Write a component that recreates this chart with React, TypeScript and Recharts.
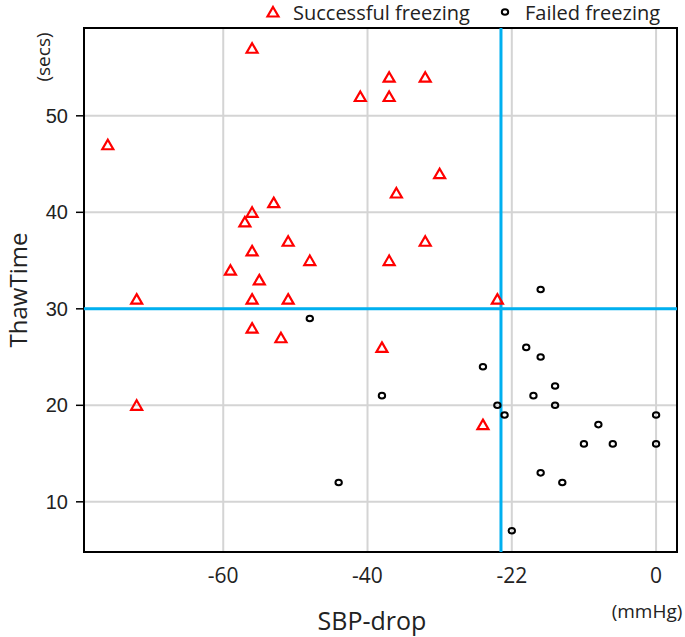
import React from 'react';
import { ScatterChart, Scatter, XAxis, YAxis, CartesianGrid, ReferenceLine, ReferenceArea } from 'recharts';

// successful freezing (red triangles)
const successSbp = [-56, -76, -53, -56, -37, -32, -41, -37, -30, -36, -57, -51, -56, -59, -55, -72, -56, -51, -56, -52, -72, -48, -37, -32, -22, -38, -24];
const successThaw = [57, 47, 41, 40, 54, 54, 52, 52, 44, 42, 39, 37, 36, 34, 33, 31, 31, 31, 28, 27, 20, 35, 35, 37, 31, 26, 18];

// failed freezing (black circles)
const failedSbp = [-48, -44, -38, -24, -22, -21, -20, -18, -17, -16, -16, -16, -14, -14, -13, -10, -8, -6, 0, 0];
const failedThaw = [29, 12, 21, 24, 20, 19, 7, 26, 21, 32, 25, 13, 22, 20, 12, 16, 18, 16, 19, 16];

const xTicks = [-60, -40, -20, 0];
const xTickLabels = ['-60', '-40', '-22', '0'];
const yTicks = [10, 20, 30, 40, 50];

const sbpCut = -21.5;
const thawCut = 30;
const xDomain: [number, number] = [-79.3, 2.9];
const yDomain: [number, number] = [4.8, 59.1];

const successData = successSbp.map((x, i) => ({ x, y: successThaw[i] }));
const failedData = failedSbp.map((x, i) => ({ x, y: failedThaw[i] }));

const BLUE = '#00b0f0';
const sans = '"Open Sans", sans-serif';

const Triangle = (p: any) => (
  <path d={`M${p.cx},${p.cy - 5} L${p.cx + 5.5},${p.cy + 4.5} L${p.cx - 5.5},${p.cy + 4.5} Z`} fill="none" stroke="#ff0000" strokeWidth={2.2} />
);
const Ring = (p: any) => (
  <ellipse cx={p.cx} cy={p.cy} rx={3.2} ry={2.8} fill="none" stroke="#000" strokeWidth={2} />
);

const abs = (left: number, top: number, extra: React.CSSProperties = {}): React.CSSProperties => ({
  position: 'absolute', left, top, transform: 'translate(-50%, -50%)', whiteSpace: 'nowrap', fontFamily: sans, color: '#222', lineHeight: 1, ...extra,
});

export default function App() {
  return (
    <div style={{ position: 'absolute', left: 0, top: 0, width: 685, height: 637, background: '#fff' }}>
      <ScatterChart width={685} height={637} margin={{ top: 28, right: 8, bottom: 0, left: 0 }}>
        <CartesianGrid stroke="#d4d4d4" strokeWidth={2} />
        <XAxis
          type="number" dataKey="x" domain={xDomain} ticks={xTicks} allowDataOverflow
          height={85} axisLine={false} tickLine={false} tickSize={0} tickMargin={16}
          tickFormatter={(v: number) => xTickLabels[xTicks.indexOf(v)]}
          tick={{ fontFamily: sans, fontSize: 21, fill: '#222' }}
        />
        <YAxis
          type="number" dataKey="y" domain={yDomain} ticks={yTicks} allowDataOverflow
          width={84} axisLine={false} tickSize={8} tickMargin={8}
          tickLine={{ stroke: '#000', strokeWidth: 1.5 }}
          tick={{ fontFamily: 'Liberation Sans, Arial, sans-serif', fontSize: 20, fill: '#222' }}
        />
        <ReferenceArea x1={xDomain[0]} x2={xDomain[1]} y1={yDomain[0]} y2={yDomain[1]} fill="none" stroke="#000" strokeWidth={2} />
        <ReferenceLine y={thawCut} stroke={BLUE} strokeWidth={3} />
        <ReferenceLine x={sbpCut} stroke={BLUE} strokeWidth={3} />
        <Scatter name="Successful freezing" data={successData} shape={Triangle} isAnimationActive={false} />
        <Scatter name="Failed freezing" data={failedData} shape={Ring} isAnimationActive={false} />
      </ScatterChart>

      <div style={abs(18, 290, { fontSize: 24, transform: 'translate(-50%, -50%) rotate(-90deg)' })}>ThawTime</div>
      <div style={abs(43, 57, { fontSize: 19, transform: 'translate(-50%, -50%) rotate(-90deg)' })}>(secs)</div>
      <div style={abs(372, 620, { fontSize: 25 })}>SBP-drop</div>
      <div style={abs(647, 611, { fontSize: 19 })}>(mmHg)</div>

      <svg style={{ position: 'absolute', left: 0, top: 0 }} width={685} height={26}>
        <Triangle cx={273} cy={12} />
        <Ring cx={505} cy={12} />
      </svg>
      <div style={{ ...abs(0, 13, { fontSize: 20 }), left: 293, transform: 'translateY(-50%)' }}>Successful freezing</div>
      <div style={{ ...abs(0, 13, { fontSize: 20 }), left: 525, transform: 'translateY(-50%)' }}>Failed freezing</div>
    </div>
  );
}
